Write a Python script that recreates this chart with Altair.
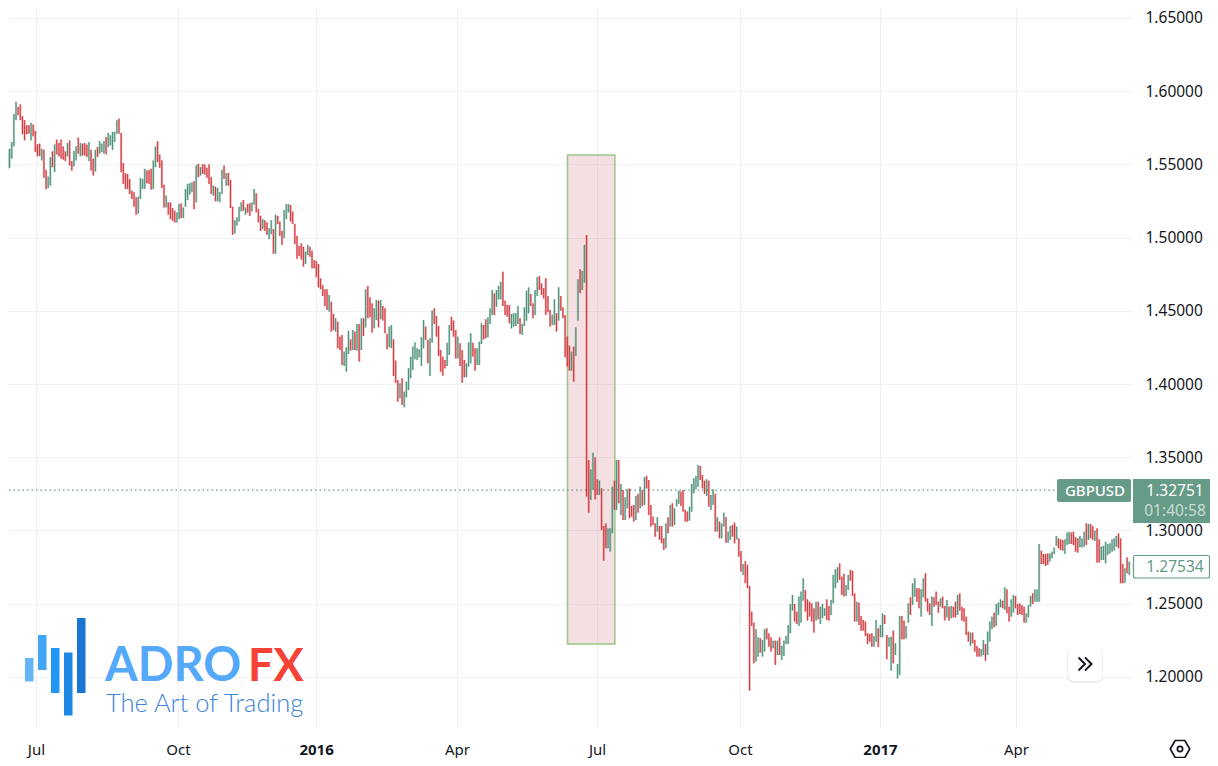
import altair as alt
import pandas as pd

# (high, low, up) in pips above 1.0000, one row per trading day
bars_2015_a = [
(5390,5252,1),(5550,5362,1),(5532,5417,0),(5596,5463,1),(5607,5477,1),(5653,5539,1),(5843,5623,1),(5928,5802,1),(5893,5836,0),(5910,5802,0),
(5829,5706,0),(5802,5664,0),(5768,5706,0),(5768,5710,0),(5784,5664,1),(5772,5692,0),(5729,5584,0),(5637,5555,0),(5642,5557,0),(5607,5527,1),
(5600,5408,0),(5463,5330,0),(5417,5339,1),(5550,5355,1),(5589,5481,0),(5637,5447,1),(5669,5568,0),(5646,5555,0),(5669,5539,0),(5623,5532,0),
(5589,5522,0),(5646,5555,1),(5664,5493,0),(5522,5458,0),(5591,5486,1),(5623,5527,1),(5683,5573,0),(5646,5555,1),(5642,5561,0),(5646,5561,0),
(5635,5550,0),(5653,5523,1),(5600,5458,0),(5539,5424,0),(5600,5452,1),(5619,5550,0),(5660,5573,1),(5642,5584,1),(5660,5573,1),(5687,5568,0),
(5715,5619,1),(5699,5630,1),(5722,5600,1),(5722,5653,1),(5802,5710,1),(5813,5710,0),(5715,5447,0),(5509,5367,0),(5440,5332,0),(5435,5332,0),
(5401,5298,0),(5321,5264,0),(5310,5211,0),(5275,5156,0),(5280,5165,1),(5408,5264,1),(5401,5332,1),(5470,5332,1),(5458,5371,0),(5463,5367,0),
(5470,5328,0),(5527,5332,1),(5623,5481,1),(5658,5516,0),(5568,5477,0),(5527,5339,0),(5362,5206,0),(5287,5206,1),(5241,5156,0),(5241,5126,0),
(5202,5115,0),(5184,5103,0),(5172,5103,1),(5229,5126,1),(5234,5133,0),(5206,5133,1),(5332,5211,1),(5367,5257,1),(5371,5294,1),(5378,5310,1),
(5385,5195,0),(5493,5241,1),(5504,5413,0),(5481,5424,1),(5500,5435,0),(5500,5431,0),(5477,5408,0),(5500,5367,0),(5413,5298,0),(5355,5287,1),
(5348,5248,0),(5339,5248,1),(5310,5241,1),(5463,5298,1),(5493,5401,0),(5440,5355,1),(5442,5355,0),(5394,5202,0),(5211,5019,0),(5119,5028,1),
(5138,5081,1),(5211,5110,1),(5241,5179,1),(5257,5184,0),(5206,5156,1),(5230,5170,0),(5234,5149,0),(5241,5179,1),(5332,5225,1),(5303,5172,0),(5195,5103,0),
(5149,5046,0),(5126,5058,1),(5119,5046,0),(5103,5019,0),(5065,4989,1),(5119,5023,1),(5058,4890,0),(5156,4890,1),(5149,5092,0),(5110,5012,0),
(5046,4950,0),(5188,4996,1),(5229,5126,1),(5229,5172,1),(5223,5110,0),(5179,5092,0),(5092,4955,0),(5012,4856,0),(4943,4874,0),(4960,4850,0),
]
bars_2015_b = [
(4938,4802,0),(4904,4820,1),(4950,4881,1),(4938,4870,0),(4911,4790,0),(4847,4790,0),(4840,4729,0),(4820,4660,0),(4722,4647,0),(4676,4601,0),
(4647,4533,0),(4647,4506,0),(4608,4494,1),(4562,4358,0),(4478,4369,0),(4449,4358,1),(4426,4244,0),(4323,4232,0),(4335,4130,0),(4221,4123,1),
(4251,4084,1),(4364,4205,1),(4305,4228,0),(4369,4232,1),(4358,4232,0),(4410,4228,1),(4410,4153,0),(4449,4232,1),(4449,4328,0),(4647,4387,1),
(4670,4449,0),(4592,4456,0),(4551,4351,0),(4517,4380,1),(4574,4437,1),(4569,4387,0),(4574,4442,1),(4533,4433,0),(4517,4346,0),(4342,4237,0),
(4392,4251,1),(4403,4244,1),(4305,4055,0),(4160,4009,0),(4027,3879,0),(4005,3902,1),(4039,3857,0),(3948,3841,1),(4016,3909,1),(4107,3959,1),
(4187,4039,1),(4255,4096,1),(4285,4169,1),(4244,4164,1),(4237,4182,1),(4319,4123,1),(4437,4244,1),(4392,4301,0),(4301,4141,0),(4312,4055,1),
(4501,4282,1),(4517,4410,0),(4465,4323,0),(4396,4191,0),(4232,4084,0),(4187,4057,0),(4164,4107,0),(4282,4123,1),(4403,4198,1),(4460,4364,0),
(4433,4323,0),(4369,4175,0),(4323,4175,1),(4278,4123,0),(4232,4009,0),(4164,4046,0),(4141,4046,1),(4285,4118,1),(4346,4141,1),(4282,4187,0),
(4244,4091,0),(4244,4130,1),(4289,4130,1),(4415,4273,1),(4403,4305,0),(4442,4312,0),(4456,4319,1),(4517,4410,1),(4642,4471,1),(4619,4471,0),
(4642,4528,1),(4670,4578,1),(4699,4578,1),(4767,4533,0),(4569,4471,0),(4540,4460,0),(4540,4415,0),(4478,4380,1),(4483,4392,1),(4483,4396,1),
(4533,4410,1),(4449,4342,0),(4410,4335,1),(4524,4396,1),(4638,4433,1),(4660,4483,1),(4615,4533,0),(4551,4449,0),(4642,4471,1),(4729,4601,1),
(4738,4642,0),(4688,4608,0),(4654,4585,0),(4722,4471,0),(4600,4490,0),
]
bars_2016_a = [
(4506,4392,0),(4472,4403,1),(4579,4403,1),(4483,4358,0),(4661,4433,1),(4601,4501,0),(4524,4449,0),(4472,4182,0),(4324,4119,0),(4262,4091,0),
(4221,4091,1),(4255,4016,0),(4387,4192,1),(4715,4433,1),(4783,4620,0),(4772,4642,1),(4950,4692,1),(5018,3231,0),(3481,3121,0),(3417,3208,1),
(3531,3276,1),(3499,3212,0),(3349,3242,0),(3340,3242,1),(3287,3003,0),(3030,2793,0),(3048,2878,0),(3014,2878,1),(3014,2855,1),(3299,2980,1),
(3340,3140,0),(3481,3140,1),(3481,3185,0),(3317,3105,1),(3276,3071,0),(3226,3071,1),(3281,3151,1),(3287,3083,0),(3167,3094,0),(3174,3060,0),
(3235,3071,1),(3249,3121,0),(3299,3151,1),(3276,3167,0),(3363,3174,1),(3372,3287,0),(3344,3105,0),(3174,3026,0),(3094,3037,0),(3048,2957,0),
(3090,2992,1),(3030,2935,0),(3030,2912,0),(2946,2866,0),(3048,2878,1),(3090,2980,0),(3174,3026,1),(3185,3026,0),(3151,3037,1),(3212,3162,1),
(3272,3181,1),(3265,3167,0),(3276,3128,0),(3140,3060,0),(3128,3060,0),(3162,3067,1),(3317,3128,1),(3356,3253,1),(3372,3281,1),(3447,3299,1),
(3440,3344,0),(3379,3287,0),(3340,3249,0),(3349,3235,1),(3340,3162,0),(3242,3140,1),(3281,3174,1),(3249,2992,0),(3090,2992,1),(3060,2946,0),
(3048,2946,1),(3121,3026,1),(3090,2916,0),(2992,2916,1),(3030,2935,1),(3037,2957,0),(3053,2912,0),(3026,2939,1),(2946,2821,0),(2859,2718,0),
(2771,2696,1),(2790,2640,0),
]
bars_2016_b = [
(2764,2605,0),(2621,1906,0),(2445,2347,0),(2370,2092,0),(2325,2104,1),(2270,2138,1),(2263,2165,0),(2252,2138,1),(2325,2172,1),(2331,2256,0),
(2297,2206,0),(2270,2172,0),(2247,2195,1),(2247,2081,0),(2247,2149,1),(2270,2149,0),(2211,2115,1),(2247,2142,1),(2279,2224,1),(2354,2224,1),
(2498,2297,1),(2559,2452,1),(2498,2377,0),(2445,2361,0),(2548,2347,1),(2582,2370,1),(2673,2520,1),(2593,2445,0),(2529,2384,0),(2513,2411,0),
(2502,2377,0),(2468,2302,0),(2513,2384,1),(2513,2393,0),(2479,2361,1),(2498,2400,1),(2468,2416,1),(2529,2388,0),(2484,2384,0),(2525,2422,1),
(2696,2502,1),(2734,2605,1),(2748,2643,1),(2775,2662,0),(2684,2559,0),(2703,2548,0),(2627,2552,1),(2696,2593,1),(2730,2657,0),(2725,2552,0),
(2570,2377,0),(2513,2377,1),(2507,2354,0),(2416,2315,0),(2388,2315,0),(2377,2279,0),(2297,2224,0),(2293,2240,0),(2297,2206,0),(2279,2206,1),
(2388,2240,1),(2331,2202,0),(2354,2270,1),(2434,2270,1),(2422,2361,0),(2286,2120,0),(2270,2206,1),(2274,2042,1),(2315,2092,0),(2229,2149,1),
(2088,1988,1),(2416,2013,1),
]
bars_2017_a = [
(2416,2256,0),(2384,2256,0),(2347,2263,1),(2502,2370,1),(2543,2422,0),(2639,2491,1),(2673,2548,1),(2605,2513,0),(2605,2468,0),(2598,2411,1),
(2673,2543,1),(2707,2513,0),(2536,2445,0),(2502,2422,0),(2548,2347,1),(2543,2479,0),(2582,2491,0),(2513,2438,0),(2536,2479,1),(2548,2468,0),
(2484,2384,0),(2525,2406,1),(2479,2384,0),(2484,2400,1),(2479,2406,0),(2513,2406,0),(2559,2422,1),(2570,2452,0),(2479,2384,0),(2468,2377,0),
(2411,2286,0),(2309,2240,0),(2302,2211,1),(2302,2229,0),(2252,2172,0),(2211,2138,0),(2195,2138,0),(2188,2138,1),(2252,2149,1),(2224,2110,0),
(2309,2149,1),(2377,2240,1),(2411,2325,1),(2438,2338,0),(2498,2347,1),(2507,2422,1),(2529,2475,1),(2520,2468,0),(2611,2457,1),(2598,2434,0),
(2479,2377,0),(2529,2411,1),(2559,2438,1),(2552,2468,0),(2498,2422,0),
]
bars_2017_b = [
(2502,2429,0),(2490,2422,0),(2479,2370,0),(2434,2370,1),(2490,2406,1),(2552,2479,1),(2570,2497,0),(2597,2513,1),(2597,2513,1),(2907,2513,1),
(2862,2771,0),(2839,2771,0),(2839,2757,0),(2843,2764,0),(2843,2787,1),(2855,2809,1),(2884,2839,1),(2962,2894,1),(2946,2878,0),(2939,2866,0),
(2935,2862,0),(2939,2839,1),(2985,2900,1),(2991,2907,1),(2985,2907,0),(2991,2900,0),(2953,2855,0),(2946,2848,0),(2962,2884,1),(2946,2884,1),
(2991,2889,1),(3048,2900,0),(3044,2935,1),(3044,2946,0),(3030,2935,0),(2998,2928,1),(3014,2780,0),(2939,2780,0),(2889,2798,1),(2894,2798,1),
(2923,2775,1),(2907,2832,1),(2912,2843,1),(2939,2855,1),(2946,2862,1),(2962,2889,1),(2980,2878,0),(2946,2639,0),(2771,2639,0),(2741,2643,1),
(2816,2707,0),(2787,2695,1),
]

month_positions = [16.3, 82.5, 146.9, 212.6, 277.9, 344.5, 409.8, 473.2]
month_labels = ["Jul", "Oct", "2016", "Apr", "Jul", "Oct", "2017", "Apr"]
year_positions = [146.9, 409.8]
price_ticks = [1.20, 1.25, 1.30, 1.35, 1.40, 1.45, 1.50, 1.55, 1.60, 1.65]
last_price = 1.32751
zone = {"x": 264.1, "x2": 286.2, "y": 1.5564, "y2": 1.2224}

rows = bars_2015_a + bars_2015_b + bars_2016_a + bars_2016_b + bars_2017_a + bars_2017_b
df = pd.DataFrame({
    "bar": range(len(rows)),
    "high": [1 + r[0] / 10000 for r in rows],
    "low": [1 + r[1] / 10000 for r in rows],
    "dir": ["up" if r[2] else "down" for r in rows],
})

FONT = "Noto Sans"
TEXT = "#131722"
GRID = "#f0f1f4"
TAG = "#659b87"
W, H = 1124, 720

label_expr = "{}[indexof({}, datum.value)]".format(month_labels, month_positions)
bold_test = "indexof({}, datum.value) >= 0".format(year_positions)

xs = alt.X("bar:Q", scale=alt.Scale(domain=[3.26, 527.3], nice=False, zero=False), title=None,
           axis=alt.Axis(values=month_positions, labelExpr=label_expr, grid=True, gridColor=GRID, gridWidth=1,
                         ticks=False, domain=False, labelFont=FONT, labelFontSize=15, labelColor=TEXT,
                         labelPadding=14, labelOverlap=False, labelFlush=False,
                         labelFontWeight={"condition": {"test": bold_test, "value": "bold"}, "value": "normal"}))
ys = alt.Y("low:Q", scale=alt.Scale(domain=[1.16503, 1.65683], nice=False, zero=False), title=None,
           axis=alt.Axis(orient="right", values=price_ticks, format=".5f", grid=True, gridColor=GRID, gridWidth=1,
                         ticks=False, domain=False, labelFont=FONT, labelFontSize=15.5, labelColor=TEXT,
                         labelPadding=13, labelOverlap=False))
cs = alt.Color("dir:N", scale=alt.Scale(domain=["up", "down"], range=["#4b8f76", "#d2383d"]), legend=None)

halo = alt.Chart(df).mark_rule(strokeWidth=2.2, opacity=0.42, clip=True).encode(x=xs, y=ys, y2="high:Q", color=cs)
stems = alt.Chart(df).mark_rule(strokeWidth=1, clip=True).encode(x=xs, y=ys, y2="high:Q", color=cs)

zone_chart = alt.Chart(pd.DataFrame([zone])).mark_rect(fill="#c9616c", fillOpacity=0.2, stroke="#9fc48b", strokeWidth=1.5).encode(
    x=alt.X("x:Q"), x2="x2:Q", y=alt.Y("y:Q"), y2="y2:Q")
last_line = alt.Chart(pd.DataFrame({"p": [last_price]})).mark_rule(color=TAG, strokeDash=[1.5, 3], strokeWidth=1.3).encode(
    y=alt.Y("p:Q"), x=alt.value(-8), x2=alt.value(1047))

one = alt.Data(values=[{}])

def box(x, x2, y, y2, **kw):
    return alt.Chart(one).mark_rect(**kw).encode(x=alt.value(x - 8), x2=alt.value(x2 - 8), y=alt.value(y - 8), y2=alt.value(y2 - 8))

def label(s, x, y, **kw):
    return alt.Chart(one).mark_text(text=s, font=kw.pop("font", FONT), **kw).encode(x=alt.value(x - 8), y=alt.value(y - 8))

def glyph(path, x, y, size, width=2):
    return alt.Chart(one).mark_point(shape=path, size=size, filled=False, stroke="#131722", strokeWidth=width, opacity=1).encode(
        x=alt.value(x - 8), y=alt.value(y - 8))

logo = [
    box(25, 33.5, 658, 681.5, fill="#64b5f6"),
    box(38, 46.5, 635, 670, fill="#42a5f5"),
    box(51, 59.5, 648, 693, fill="#2196f3"),
    box(64, 72.5, 652.5, 715.5, fill="#1e88e5"),
    box(77, 85.5, 618, 693, fill="#1976d2"),
    label("ADRO", 105, 681, font="Lato", fontSize=47, fontWeight="bold", fill="#54a9fb", align="left", baseline="alphabetic"),
    label("FX", 248, 681, font="Lato", fontSize=45, fontWeight="bold", fill="#f44336", align="left", baseline="alphabetic"),
    label("The Art of Trading", 106, 712, font="Lato", fontSize=25.5, fontWeight=300, fill="#3d85d8", align="left", baseline="alphabetic"),
]
tags = [
    box(1057, 1131, 479, 502, fill=TAG, cornerRadius=2),
    label("GBPUSD", 1095, 491, fontSize=15, fontWeight=500, fill="white", align="center", baseline="middle"),
    box(1133, 1212, 479, 523, fill=TAG),
    label("1.32751", 1175, 491, fontSize=15.5, fill="white", align="center", baseline="middle"),
    label("01:40:58", 1175, 511, fontSize=15.5, fill="#c8ded6", align="center", baseline="middle"),
    box(1133.5, 1209.5, 555.5, 578, fill="white", stroke=TAG, strokeWidth=1.2, cornerRadius=2),
    label("1.27534", 1175, 567, fontSize=15.5, fill=TAG, align="center", baseline="middle"),
]
button = [
    box(1067, 1103, 647, 683, fill="#e4e6ea", cornerRadius=7, opacity=0.7),
    box(1068, 1102, 647, 681, fill="white", cornerRadius=6),
    glyph("M-1,-1 L0,0 L-1,1 M0,-1 L1,0 L0,1", 1085, 664, 170),
    glyph("M-1,0 L-0.5,-0.87 L0.5,-0.87 L1,0 L0.5,0.87 L-0.5,0.87 Z", 1180, 749, 380, 1.7),
    alt.Chart(one).mark_point(shape="circle", size=28, filled=False, stroke="#131722", strokeWidth=1.7, opacity=1).encode(
        x=alt.value(1180 - 8), y=alt.value(749 - 8)),
]

chart = alt.layer(zone_chart, last_line, halo, stems, *logo, *tags, *button).resolve_scale(
    x="shared", y="shared", color="independent"
).properties(
    width=W, height=H,
    autosize=alt.AutoSizeParams(type="none"),
    padding={"left": 0, "top": 0, "right": 78, "bottom": 30},
    background="white",
).configure_view(stroke=None)

chart.save("out.html", embed_options={"renderer": "svg", "actions": False})
